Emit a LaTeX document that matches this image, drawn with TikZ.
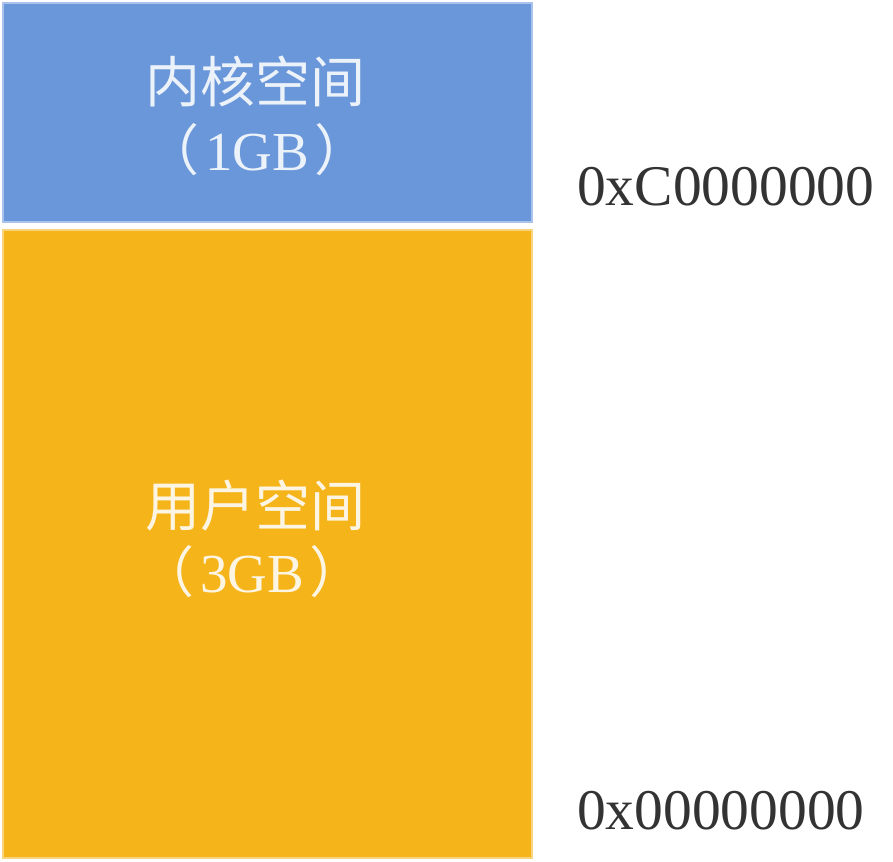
\documentclass[tikz,border=0pt]{standalone}
\usepackage{fontspec}
\setmainfont{Liberation Serif}
\newfontfamily\cjk{Noto Sans CJK SC}
\definecolor{kblue}{HTML}{6A97D9}
\definecolor{kblueedge}{HTML}{A9C3EC}
\definecolor{uorange}{HTML}{F5B41A}
\definecolor{uorangeedge}{HTML}{F9D37E}
\begin{document}
\begin{tikzpicture}[x=1pt,y=-1pt,
  region/.style={rectangle,inner sep=0pt,line width=2pt},
  label/.style={text=white,text opacity=0.88,inner sep=0pt,anchor=center,font=\fontsize{55}{55}\selectfont},
  addr/.style={inner sep=0pt,anchor=base west,text=black!80,font=\fontsize{57.5}{57.5}\selectfont}]
\useasboundingbox (0,0) rectangle (893,861);
\node[region,fill=kblue,draw=kblueedge,minimum width=529pt,minimum height=219pt] (kernel) at (267.5,112.5) {};
\node[region,fill=uorange,draw=uorangeedge,minimum width=529pt,minimum height=628pt] (user) at (267.5,543.5) {};
\node[label] (k1) at (255,81) {\cjk 内核空间};
\node[label] (k2) at (257,150) {{\cjk （}\hspace{6pt}1GB\hspace{6pt}{\cjk ）}};
\node[label] (u1) at (255,506) {\cjk 用户空间};
\node[label] (u2) at (252,572) {{\cjk （}\hspace{6pt}3GB\hspace{6pt}{\cjk ）}};
\node[addr] (ahigh) at (577,205) {0xC0000000};
\node[addr] (alow) at (577,829) {0x00000000};
\end{tikzpicture}
\end{document}
